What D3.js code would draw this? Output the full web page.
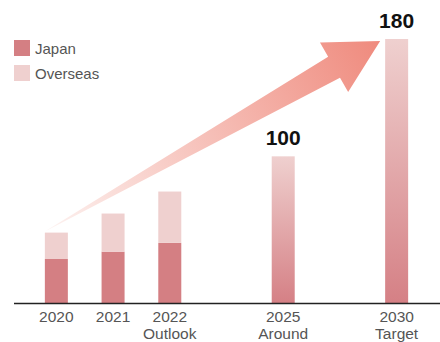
<!DOCTYPE html>
<html><head><meta charset="utf-8">
<script src="https://cdn.jsdelivr.net/npm/d3@7"></script>
<style>
html,body{margin:0;padding:0;background:#fff;}
svg{display:block;font-family:"Liberation Sans",Arial,Helvetica,sans-serif;}
</style></head>
<body>
<svg id="chart" width="440" height="342"></svg>
<script>
// ---- data ----
const slots = ["2020","2021","2022","gapA","2025","gapB","2030"];
const stackedYears = ["2020","2021","2022"];
const japan = [30, 35, 41];
const overseas = [18, 26, 35];
const targetYears = ["2025","2030"];
const targetValues = [100, 180];
const axisYears = ["2020","2021","2022","2025","2030"];
const axisSub = ["","","Outlook","Around","Target"];
const seriesNames = ["Japan","Overseas"];
const colors = {Japan:"#d47f83", Overseas:"#efd0cf"};

const svg = d3.select("#chart");
const W = 440, H = 342;
const baseY = 303;

const x = d3.scalePoint().domain(slots).range([28, 425]).padding(0.5);
const y = d3.scaleLinear().domain([0, 180]).range([baseY, 39]);
const barW = 23;

const defs = svg.append("defs");
const vg = defs.append("linearGradient").attr("id","vgrad")
  .attr("x1",0).attr("y1",0).attr("x2",0).attr("y2",1);
vg.append("stop").attr("offset","0%").attr("stop-color","#efd0cf");
vg.append("stop").attr("offset","100%").attr("stop-color","#d58085");

// ---- arrow (anchored to data via scales) ----
const tail = [x("2020") - barW/2, y(japan[0] + overseas[0]) - 1];
const tip = [x("2030") - barW/2 - 5, y(180) + 2];
const dx = tip[0]-tail[0], dy = tip[1]-tail[1], L = Math.hypot(dx,dy);
const u = [dx/L, dy/L], n = [-u[1], u[0]];
const headLen = 53, headHalf = 28.5, shaftHalf = 12;
const bc = [tip[0]-headLen*u[0], tip[1]-headLen*u[1]];
const P = (c,k)=>[c[0]+k*n[0], c[1]+k*n[1]];
const arrowPts = [tail, P(bc,-shaftHalf), P(bc,-headHalf), tip, P(bc,headHalf), P(bc,shaftHalf), tail];
const ag = defs.append("linearGradient").attr("id","agrad").attr("gradientUnits","userSpaceOnUse")
  .attr("x1",tail[0]).attr("y1",tail[1]).attr("x2",tip[0]).attr("y2",tip[1]);
ag.append("stop").attr("offset","0%").attr("stop-color","#fdf3f1");
ag.append("stop").attr("offset","100%").attr("stop-color","#ef8a7d");
svg.append("path").attr("d", d3.line()(arrowPts) + "Z").attr("fill","url(#agrad)");

// ---- stacked bars ----
const rows = stackedYears.map((yr,i)=>({year:yr, Japan:japan[i], Overseas:overseas[i]}));
const stack = d3.stack().keys(seriesNames)(rows);
svg.append("g").selectAll("g").data(stack).join("g")
  .attr("fill", d=>colors[d.key])
  .selectAll("rect").data(d=>d).join("rect")
  .attr("x", d=>x(d.data.year)-barW/2)
  .attr("y", d=>y(d[1]))
  .attr("width", barW)
  .attr("height", d=>y(d[0])-y(d[1]));

// ---- gradient target bars ----
svg.append("g").selectAll("rect").data(targetYears).join("rect")
  .attr("x", d=>x(d)-barW/2)
  .attr("y", (d,i)=>y(targetValues[i]))
  .attr("width", barW)
  .attr("height", (d,i)=>baseY - y(targetValues[i]))
  .attr("fill","url(#vgrad)");

svg.append("g").selectAll("text").data(targetYears).join("text")
  .attr("x", d=>x(d))
  .attr("y", (d,i)=>y(targetValues[i]) - 11.5)
  .attr("text-anchor","middle")
  .attr("font-size", 21).attr("font-weight","bold").attr("fill","#111")
  .text((d,i)=>targetValues[i]);

// ---- axis ----
svg.append("line").attr("x1",14).attr("x2",440).attr("y1",baseY+0.5).attr("y2",baseY+0.5)
  .attr("stroke","#222").attr("stroke-width",1.3);
const lab = svg.append("g").selectAll("text").data(axisYears).join("text")
  .attr("text-anchor","middle").attr("font-size",15.5).attr("fill","#555");
lab.append("tspan").attr("x", d=>x(d)).attr("y", 322).text(d=>d);
lab.append("tspan").attr("x", d=>x(d)).attr("y", 339).text((d,i)=>axisSub[i]);

// ---- legend ----
const leg = svg.append("g").selectAll("g").data(seriesNames).join("g")
  .attr("transform",(d,i)=>`translate(14,${40 + i*25})`);
leg.append("rect").attr("width",16).attr("height",16).attr("fill",d=>colors[d]);
leg.append("text").attr("x",21).attr("y",13.5).attr("font-size",15).attr("fill","#555").text(d=>d);
</script>
</body></html>
